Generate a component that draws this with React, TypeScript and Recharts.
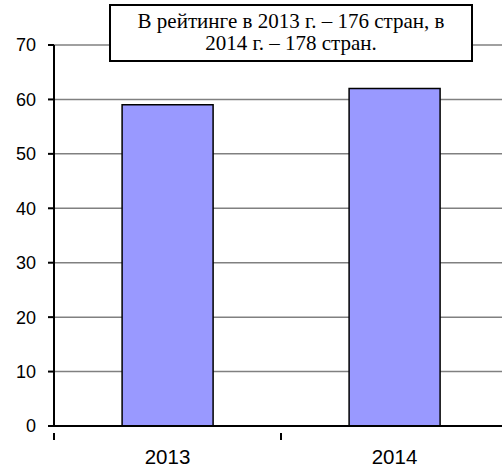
import React from 'react';
import { BarChart, Bar, XAxis, YAxis, CartesianGrid } from 'recharts';

const years = ['2013', '2014'];
const values = [59, 62];
const yTicks = [0, 10, 20, 30, 40, 50, 60, 70];
const noteLine1 = 'В рейтинге в 2013 г. – 176 стран, в';
const noteLine2 = '2014 г. – 178 стран.';

const data = years.map((y, i) => ({ year: y, value: values[i] }));

const XTick = (props: any) => {
  const { x, y, payload, index } = props;
  const off = payload && payload.offset ? payload.offset : 113.5;
  return (
    <g>
      <text x={x} y={y + 29.5} textAnchor="middle" fill="#000" fontSize={20.5} fontFamily="Liberation Sans, Arial, sans-serif">
        {payload.value}
      </text>
      {index === 0 && <line x1={x - off} x2={x - off} y1={y - 1} y2={y + 6} stroke="#000" strokeWidth={2} />}
      <line x1={x + off} x2={x + off} y1={y - 1} y2={y + 6} stroke="#000" strokeWidth={2} />
    </g>
  );
};

export default function App() {
  return (
    <div style={{ position: 'absolute', left: 0, top: 0, width: 502, height: 468, overflow: 'hidden', background: '#fff' }}>
      <BarChart width={508} height={468} data={data} margin={{ top: 45, right: 0, left: 0, bottom: 0 }} barCategoryGap="30%">
        <CartesianGrid vertical={false} stroke="#808080" strokeWidth={1.5} />
        <XAxis dataKey="year" height={42} tickLine={false} axisLine={{ stroke: '#000', strokeWidth: 2 }} tick={<XTick />} interval={0} />
        <YAxis
          width={54}
          domain={[0, 70]}
          ticks={yTicks}
          interval={0}
          tickSize={6}
          tickMargin={12}
          axisLine={{ stroke: '#000', strokeWidth: 2 }}
          tickLine={{ stroke: '#000', strokeWidth: 2 }}
          tick={{ fill: '#000', fontSize: 18, fontFamily: 'Liberation Sans, Arial, sans-serif' }}
        />
        <Bar dataKey="value" fill="#9999ff" stroke="#000" strokeWidth={1.5} isAnimationActive={false} />
      </BarChart>
      <div
        style={{
          position: 'absolute',
          left: 109,
          top: 4,
          width: 364,
          height: 58,
          boxSizing: 'border-box',
          border: '2px solid #000',
          background: '#fff',
          fontFamily: 'Times New Roman, Liberation Serif, serif',
          fontSize: 21,
          lineHeight: '22px',
          textAlign: 'center',
          paddingTop: 4,
          color: '#000',
          whiteSpace: 'nowrap',
        }}
      >
        <div>{noteLine1}</div>
        <div>{noteLine2}</div>
      </div>
    </div>
  );
}
